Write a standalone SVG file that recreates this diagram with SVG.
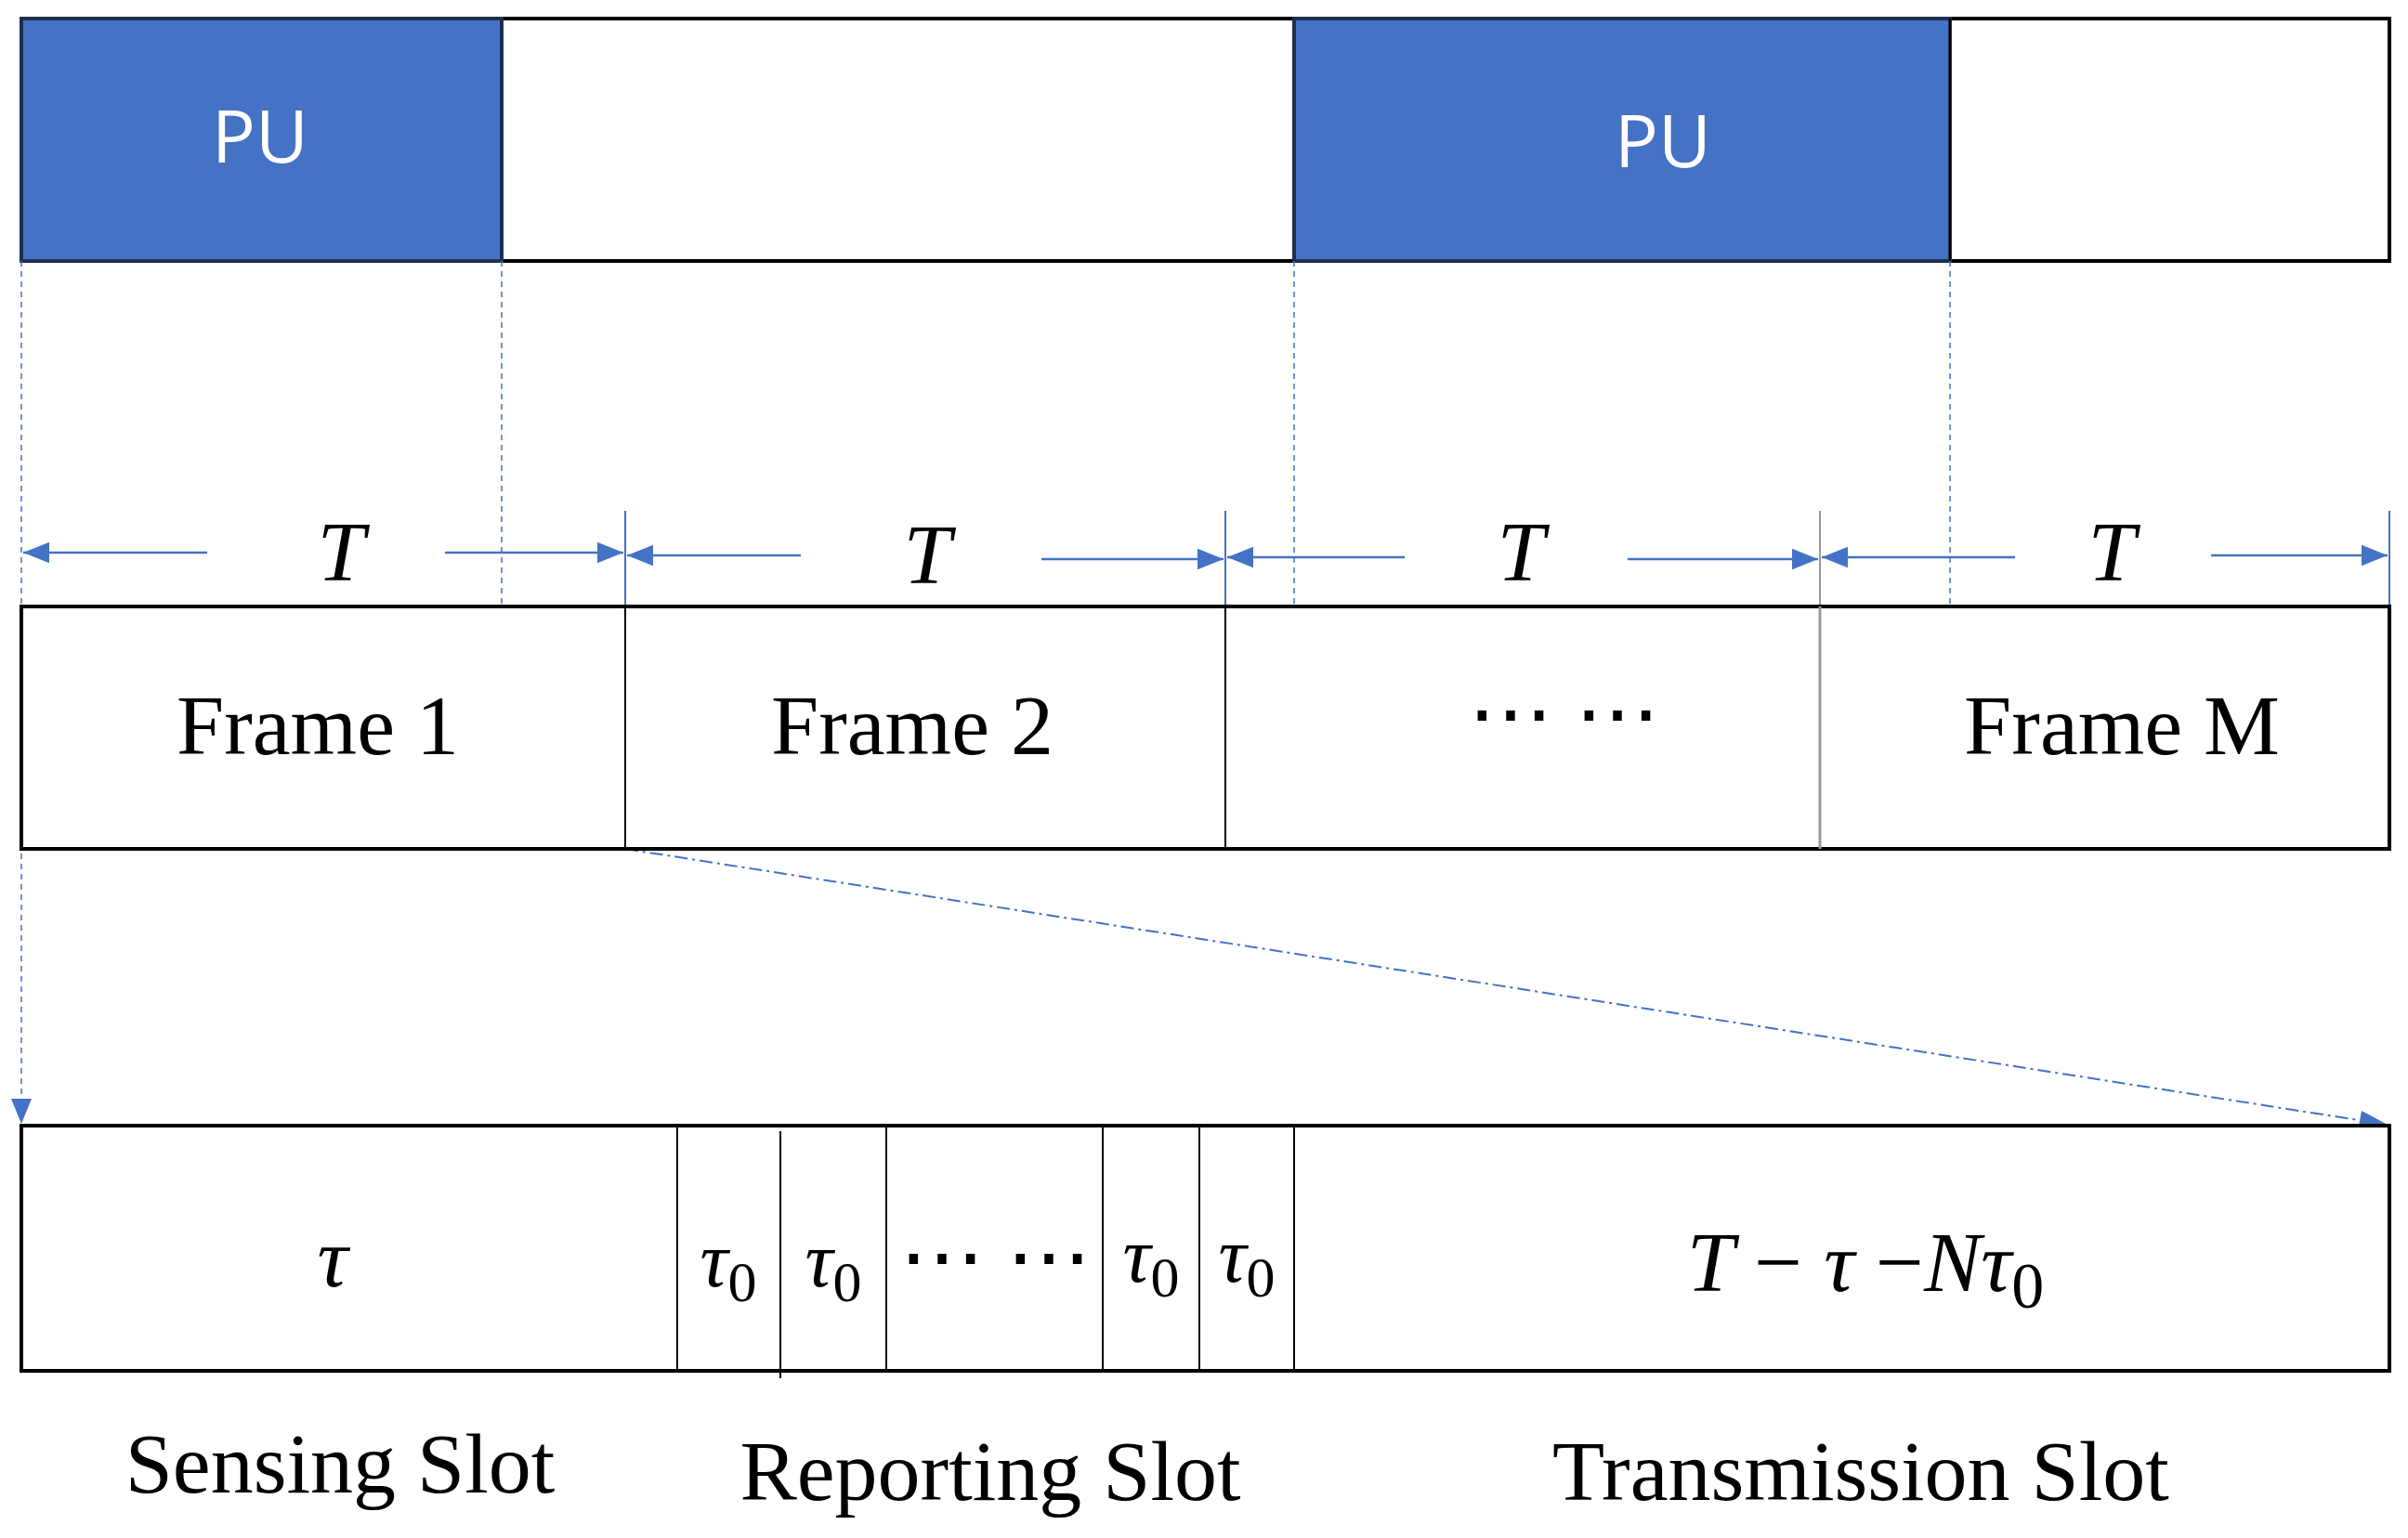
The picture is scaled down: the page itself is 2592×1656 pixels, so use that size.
<svg xmlns="http://www.w3.org/2000/svg" width="2592" height="1656" viewBox="0 0 2592 1656">
<style>
.box{fill:#fff;stroke:#000;stroke-width:4}
.pu{fill:#4472C4;stroke:#1f2f4f;stroke-width:4}
.div{stroke:#000;stroke-width:2}
.dash{stroke:#4472C4;stroke-width:1.5;stroke-dasharray:6 5;fill:none}
.arr{stroke:#4472C4;stroke-width:2.5;fill:none}
.tm{font-family:"Liberation Serif",serif;font-size:92px;text-anchor:middle;fill:#000}
.it{font-family:"Liberation Serif",serif;font-style:italic;font-size:92px;text-anchor:middle;fill:#000}
.t0{font-family:"Liberation Serif",serif;font-style:italic;font-size:84px;text-anchor:middle;fill:#000}
.put{font-family:"Open Sans",sans-serif;font-size:78px;text-anchor:middle;fill:#fff}
</style>
<defs>
<marker id="ah2" viewBox="0 0 10 10" refX="10" refY="5" markerWidth="28" markerHeight="28" markerUnits="userSpaceOnUse" orient="auto"><path d="M0,1L10,5L0,9z" fill="#4472C4"/></marker>
</defs>
<g id="pu-row">
<rect class="box" x="23" y="20" width="2549" height="261"/>
<rect class="pu" x="23" y="20" width="517" height="261"/>
<rect class="pu" x="1393" y="20" width="706" height="261"/>
<line class="div" x1="2099" y1="20" x2="2099" y2="281"/>
<text class="put" x="280" y="175">PU</text>
<text class="put" x="1790" y="180">PU</text>
</g>
<g id="connectors">
<line class="dash" x1="23" y1="281" x2="23" y2="1185"/>
<path d="M12,1183L34,1183L23,1210z" fill="#4472C4"/>
<line class="dash" x1="540" y1="281" x2="540" y2="653"/>
<line class="dash" x1="1393" y1="281" x2="1393" y2="653"/>
<line class="dash" x1="2099" y1="281" x2="2099" y2="653"/>
<line x1="673" y1="914" x2="2545" y2="1207" stroke="#4472C4" stroke-width="2" stroke-dasharray="14 5 3 5"/>
<path d="M2572,1212L2542,1196L2538,1218z" fill="#4472C4"/>
<g class="arr">
<line x1="673" y1="550" x2="673" y2="653" stroke="#4472C4" stroke-width="2"/>
<line x1="1319" y1="550" x2="1319" y2="653" stroke="#4472C4" stroke-width="2"/>
<line x1="1959" y1="550" x2="1959" y2="653" stroke="#999" stroke-width="2"/>
<line x1="2572" y1="550" x2="2572" y2="653" stroke="#4472C4" stroke-width="2"/>
<line x1="223" y1="595" x2="25" y2="595" marker-end="url(#ah2)"/>
<line x1="479" y1="595" x2="671" y2="595" marker-end="url(#ah2)"/>
<line x1="862" y1="598" x2="675" y2="598" marker-end="url(#ah2)"/>
<line x1="1121" y1="602" x2="1317" y2="602" marker-end="url(#ah2)"/>
<line x1="1512" y1="600" x2="1321" y2="600" marker-end="url(#ah2)"/>
<line x1="1752" y1="602" x2="1957" y2="602" marker-end="url(#ah2)"/>
<line x1="2169" y1="600" x2="1961" y2="600" marker-end="url(#ah2)"/>
<line x1="2380" y1="598" x2="2570" y2="598" marker-end="url(#ah2)"/>
</g>
</g>
<g id="period-labels">
<text class="it" x="367" y="625">T</text>
<text class="it" x="998" y="628">T</text>
<text class="it" x="1637" y="625">T</text>
<text class="it" x="2273" y="625">T</text>
</g>
<g id="frames">
<rect class="box" x="23" y="653" width="2549" height="261"/>
<line class="div" x1="673" y1="653" x2="673" y2="914"/>
<line class="div" x1="1319" y1="653" x2="1319" y2="914"/>
<line x1="1959" y1="653" x2="1959" y2="914" stroke="#999" stroke-width="3"/>
<text class="tm" x="342" y="812">Frame 1</text>
<text class="tm" x="982" y="812">Frame 2</text>
<text class="tm" x="1683" y="800">⋯ ⋯</text>
<text class="tm" x="2284" y="812">Frame M</text>
</g>
<g id="slots">
<rect class="box" x="23" y="1212" width="2549" height="264"/>
<line class="div" x1="729" y1="1212" x2="729" y2="1476"/>
<line class="div" x1="840" y1="1218" x2="840" y2="1484"/>
<line class="div" x1="954" y1="1212" x2="954" y2="1476"/>
<line class="div" x1="1187" y1="1212" x2="1187" y2="1476"/>
<line class="div" x1="1291" y1="1212" x2="1291" y2="1476"/>
<line class="div" x1="1393" y1="1212" x2="1393" y2="1476"/>
<text class="it" x="358" y="1385">τ</text>
<text class="t0" x="784" y="1385">τ<tspan font-style="normal" font-size="62" dy="16">0</tspan></text>
<text class="t0" x="897" y="1385">τ<tspan font-style="normal" font-size="62" dy="16">0</tspan></text>
<text class="tm" x="1071" y="1385" font-size="80">⋯ ⋯</text>
<text class="t0" x="1239" y="1380">τ<tspan font-style="normal" font-size="62" dy="16">0</tspan></text>
<text class="t0" x="1342" y="1380">τ<tspan font-style="normal" font-size="62" dy="16">0</tspan></text>
<text class="it" x="2008" y="1390">T <tspan font-style="normal">−</tspan> τ <tspan font-style="normal">−</tspan>Nτ<tspan font-style="normal" font-size="70" dy="18">0</tspan></text>
</g>
<g id="slot-labels">
<text class="tm" x="366" y="1607">Sensing Slot</text>
<text class="tm" x="1066" y="1615">Reporting Slot</text>
<text class="tm" x="2003" y="1615">Transmission Slot</text>
</g>
</svg>
